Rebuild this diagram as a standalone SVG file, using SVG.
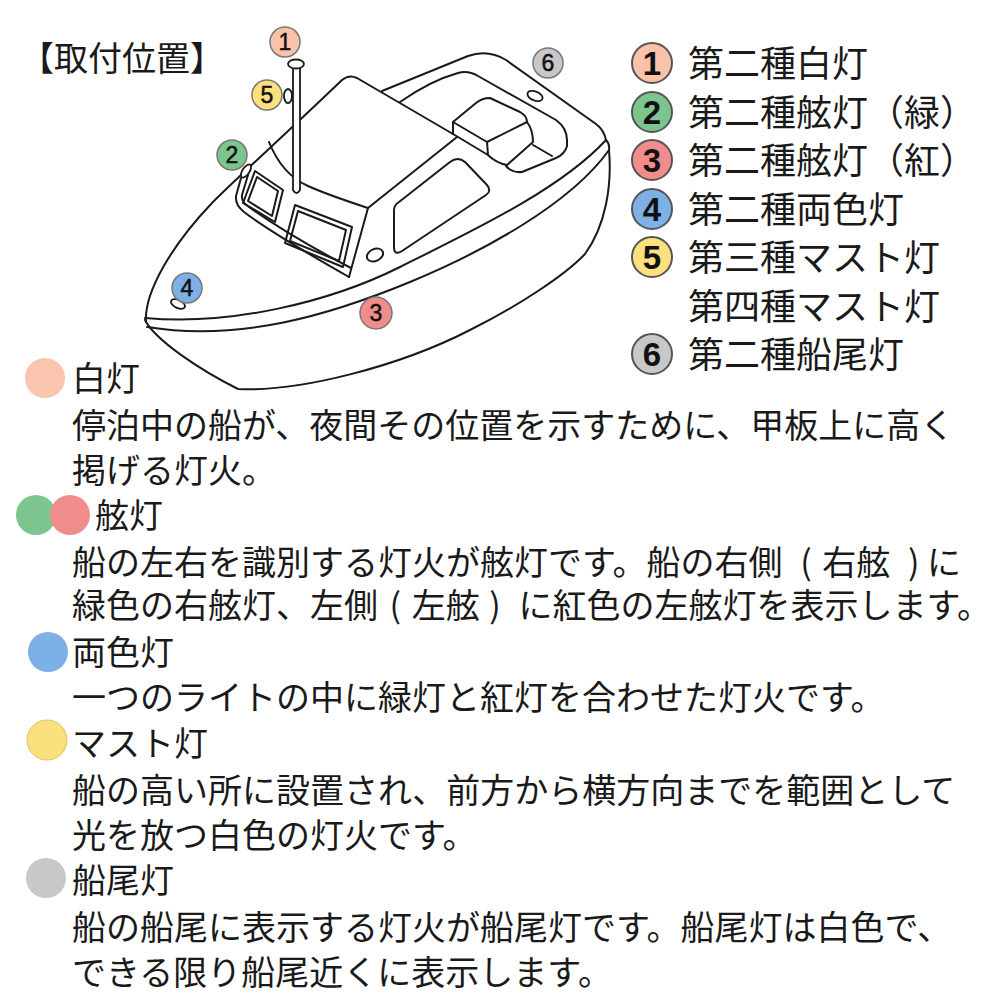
<svg xmlns="http://www.w3.org/2000/svg" width="1000" height="1000" viewBox="0 0 1000 1000">
<style>
.t{font-family:"Noto Sans CJK JP","Noto Sans CJK SC",sans-serif;fill:#1a1a1a}
.p{font-size:34px}
.lg{font-size:36px}
.ln{fill:none;stroke:#1a1a1a;stroke-width:2;stroke-linejoin:round;stroke-linecap:round}
.wf{fill:#fff;stroke:#1a1a1a;stroke-width:1.8}
.lb{stroke:#777;stroke-width:1.5}
.lbn{font-family:"Liberation Sans Narrow","Liberation Sans",Arial,sans-serif;font-size:23px;text-anchor:middle;fill:#111;stroke:#111;stroke-width:0.5}
.lgc{stroke:#555;stroke-width:2}
.lgn{font-family:"Liberation Sans",Arial,sans-serif;font-weight:bold;font-size:33px;text-anchor:middle;fill:#111}
.c1{fill:#F8C3A8}.c2{fill:#7DC58F}.c3{fill:#F18C8C}.c4{fill:#7DB0E4}.c5{fill:#FBE07E}.c6{fill:#C8C8C8}
</style>
<rect width="1000" height="1000" fill="#fff"/>

<text id="title" class="t" x="20" y="71" font-size="34">【取付位置】</text>

<g id="boat">
  <path class="ln" d="M146,322 C144,292 172,245 212,203 C240,175 290,130 342,80 Q349,74 357,78 L453,134"/>
  <path class="ln" d="M269,142 C277,162 290,178 308,186 C328,195 350,202 368,208"/>
  <path class="ln" d="M368,208 L457,137"/>
  <path class="ln" d="M368,208 L349,277"/>
  <path class="ln" d="M241,178 L236,196 Q235,205 244,212 C265,228 305,252 349,277"/>
  <path class="ln" d="M248,175 L242,195 Q241,202 249,207 C270,222 305,244 351,268"/>
  <path class="ln" d="M255,171 L283,190 L275,222 L243,203 Z"/>
  <path class="ln" d="M257,177 L278,191 L272,216 L248,201 Z"/>
  <path class="ln" d="M295,205 L352,227 L343,267 L285,243 Z"/>
  <path class="ln" d="M298,211 L346,230 L339,261 L290,241 Z"/>
  <path class="ln" d="M394,210 Q394,205 399,202 L450,162 Q458,156 465,162 L487,185 Q492,191 486,195 L402,251 Q394,256 394,247 Z"/>
  <ellipse class="ln" cx="375" cy="255" rx="8.5" ry="6" transform="rotate(-25 375 255)"/>
  <path class="ln" d="M382,91 L468,56 Q488,49 506,60 L596,124 Q604,130 606,140"/>
  <path class="ln" d="M400,102 C420,88 440,78 458,73 Q468,70 478,76 L556,120 Q567,128 567,140 L567,146 Q565,154 556,158 L522,172 Q512,173 506,166"/>
  <path class="ln" d="M453,122 L476,103 Q482,98 490,98 L520,112 Q527,116 527,122 L487,142 Z"/>
  <path class="ln" d="M453,122 L453,134 L488,155 L487,142"/>
  <path class="ln" d="M527,122 Q533,130 533,142 L507,165 Q496,163 488,155"/>
  <path class="ln" d="M533,145 L552,156"/>
  <path class="ln" d="M145,318 C230,326 330,302 400,267 C470,232 560,190 606,140"/>
  <path class="ln" d="M147,327 C240,342 330,315 410,282 C480,253 570,205 609,150"/>
  <path class="ln" d="M606,140 Q610,144 609,150 C612,185 606,225 585,254 C565,275 520,305 470,330 C400,366 300,392 238,389 C200,370 155,340 145,320"/>
  <path class="wf" d="M293,67 L293,190 Q296.5,196 300,190 L300,67"/>
  <ellipse class="wf" cx="296" cy="64" rx="8" ry="4.5"/>
  <ellipse class="wf" cx="288" cy="96" rx="4" ry="7"/>
  <ellipse class="wf" cx="246" cy="171" rx="3.5" ry="7.5" transform="rotate(34 246 171)"/>
  <ellipse class="wf" cx="178" cy="304" rx="7.5" ry="4" transform="rotate(25 178 304)"/>
  <ellipse class="wf" cx="535" cy="96" rx="8" ry="4.5" transform="rotate(22 535 96)"/>
</g>

<g id="label-1"><circle class="c1 lb" cx="285" cy="42" r="15"/><text class="lbn" x="285" y="50">1</text></g>
<g id="label-5"><circle class="c5 lb" cx="267" cy="95" r="15"/><text class="lbn" x="267" y="103">5</text></g>
<g id="label-2"><circle class="c2 lb" cx="232" cy="155" r="15"/><text class="lbn" x="232" y="163">2</text></g>
<g id="label-4"><circle class="c4 lb" cx="187" cy="288" r="15"/><text class="lbn" x="187" y="296">4</text></g>
<g id="label-3"><circle class="c3 lb" cx="376" cy="313" r="16"/><text class="lbn" x="376" y="321">3</text></g>
<g id="label-6"><circle class="c6 lb" cx="548" cy="63" r="15"/><text class="lbn" x="548" y="71">6</text></g>

<g id="legend">
  <g id="legend-1"><circle class="c1 lgc" cx="652" cy="63" r="20"/><text class="lgn" x="652" y="75">1</text><text class="t lg" x="688" y="77">第二種白灯</text></g>
  <g id="legend-2"><circle class="c2 lgc" cx="652" cy="112" r="20"/><text class="lgn" x="652" y="124">2</text><text class="t lg" x="688" y="126">第二種舷灯（緑）</text></g>
  <g id="legend-3"><circle class="c3 lgc" cx="652" cy="160" r="20"/><text class="lgn" x="652" y="172">3</text><text class="t lg" x="688" y="174">第二種舷灯（紅）</text></g>
  <g id="legend-4"><circle class="c4 lgc" cx="652" cy="209" r="20"/><text class="lgn" x="652" y="221">4</text><text class="t lg" x="688" y="223">第二種両色灯</text></g>
  <g id="legend-5"><circle class="c5 lgc" cx="652" cy="257" r="20"/><text class="lgn" x="652" y="269">5</text><text class="t lg" x="688" y="271">第三種マスト灯</text><text class="t lg" x="688" y="320">第四種マスト灯</text></g>
  <g id="legend-6"><circle class="c6 lgc" cx="652" cy="354" r="20"/><text class="lgn" x="652" y="366">6</text><text class="t lg" x="688" y="368">第二種船尾灯</text></g>
</g>

<g id="desc-white">
  <circle fill="#F9C5AE" cx="45" cy="378" r="20"/>
  <text class="t p" x="72" y="391">白灯</text>
  <text class="t p" x="72" y="438">停泊中の船が、夜間その位置を示すために、甲板上に高く</text>
  <text class="t p" x="72" y="483">掲げる灯火。</text>
</g>
<g id="desc-side">
  <circle class="c2" cx="36" cy="515" r="20"/>
  <circle class="c3" cx="70" cy="515" r="20"/>
  <text class="t p" x="95" y="528">舷灯</text>
  <text class="t p" x="72" y="575">船の左右を識別する灯火が舷灯です。船の右側<tspan dx="10"> ( </tspan><tspan dx="3">右舷</tspan><tspan dx="10"> ) </tspan>に</text>
  <text class="t p" x="72" y="618">緑色の右舷灯、左側<tspan dx="4"> ( </tspan><tspan dx="3">左舷</tspan><tspan dx="2"> ) </tspan><tspan dx="10">に紅色の左舷灯を表示します。</tspan></text>
</g>
<g id="desc-bicolor">
  <circle class="c4" cx="48" cy="652" r="20"/>
  <text class="t p" x="72" y="665">両色灯</text>
  <text class="t p" x="72" y="710">一つのライトの中に緑灯と紅灯を合わせた灯火です。</text>
</g>
<g id="desc-mast">
  <circle class="c5" cx="47" cy="740" r="20" stroke="#E2C060" stroke-width="1"/>
  <text class="t p" x="72" y="756">マスト灯</text>
  <text class="t p" x="72" y="803">船の高い所に設置され、前方から横方向までを範囲として</text>
  <text class="t p" x="72" y="848">光を放つ白色の灯火です。</text>
</g>
<g id="desc-stern">
  <circle class="c6" cx="46" cy="878" r="20"/>
  <text class="t p" x="72" y="893">船尾灯</text>
  <text class="t p" x="72" y="940">船の船尾に表示する灯火が船尾灯です。船尾灯は白色で、</text>
  <text class="t p" x="72" y="985">できる限り船尾近くに表示します。</text>
</g>
</svg>
